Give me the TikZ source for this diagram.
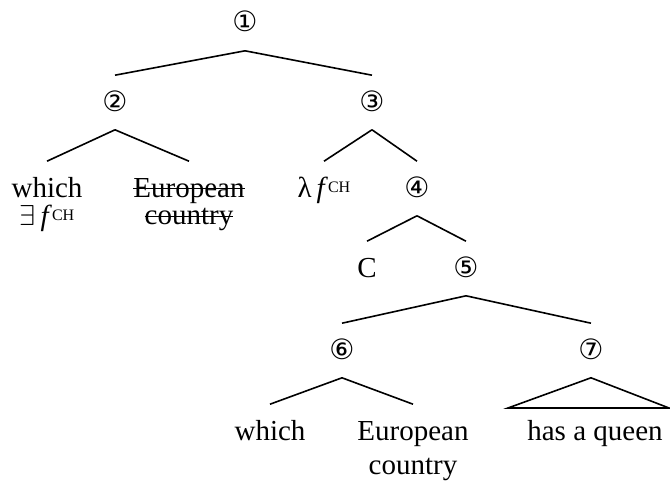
\documentclass[tikz,border=0pt]{standalone}
\usepackage{fontspec}
\setmainfont{Liberation Serif}
\newfontfamily\circfont{DejaVu Sans}
\usepackage{tikz}
\usetikzlibrary{positioning}

\newcommand{\chsup}{\raisebox{2.5pt}{\fontsize{8}{8}\selectfont CH}}
\newcommand{\strk}[1]{\setbox0\hbox{#1}\rlap{\rule[0.27em]{\wd0}{0.6pt}}\box0}

\begin{document}
\begin{tikzpicture}[x=0.5pt,y=-0.5pt,line width=0.8pt,
    font=\fontsize{14.5}{17.4}\selectfont,
    lab/.style={anchor=base,inner sep=0pt,text height=17.5pt,text depth=9pt},
    num/.style={lab,font=\circfont\fontsize{14}{14}\selectfont}]
  \useasboundingbox (0,0) rectangle (670,482);
  % inner nodes
  \node[num] (n1) at (245,32) {①};
  \node[num] (n2) at (115,111) {②};
  \node[num] (n3) at (372,111) {③};
  \node[num] (n4) at (417,197) {④};
  \node[num] (n5) at (466,277) {⑤};
  \node[num] (n6) at (342,359) {⑥};
  \node[num] (n7) at (591,359) {⑦};
  % leaves
  \node[lab] (which1) at (47,197)
    {\begin{tabular}[t]{@{}c@{}}which\\[-3pt]$\exists$\,\textit{f}\chsup\end{tabular}};
  \node[lab] (euro1) at (189,197)
    {\begin{tabular}[t]{@{}c@{}}\strk{European}\\[-3.5pt]\strk{country}\end{tabular}};
  \node[lab] (lam) at (324,197) {λ\,\textit{f}\chsup};
  \node[lab] (c) at (367,277) {C};
  \node[lab] (which2) at (270,440) {which};
  \node[lab] (euro2) at (413,440)
    {\begin{tabular}[t]{@{}c@{}}European\\country\end{tabular}};
  \node[lab] (queen) at (595,440) {has a queen};
  % branches
  \draw (n1.south) -- (n2.north);
  \draw (n1.south) -- (n3.north);
  \draw (n2.south) -- (which1.north);
  \draw (n2.south) -- (euro1.north);
  \draw (n3.south) -- (lam.north);
  \draw (n3.south) -- (n4.north);
  \draw (n4.south) -- (c.north);
  \draw (n4.south) -- (n5.north);
  \draw (n5.south) -- (n6.north);
  \draw (n5.south) -- (n7.north);
  \draw (n6.south) -- (which2.north);
  \draw (n6.south) -- (euro2.north);
  % roof over the unanalysed phrase
  \coordinate (roofl) at (508,408);
  \coordinate (roofr) at (669,408);
  \draw (n7.south) -- (roofl) -- (roofr) -- cycle;
\end{tikzpicture}
\end{document}
